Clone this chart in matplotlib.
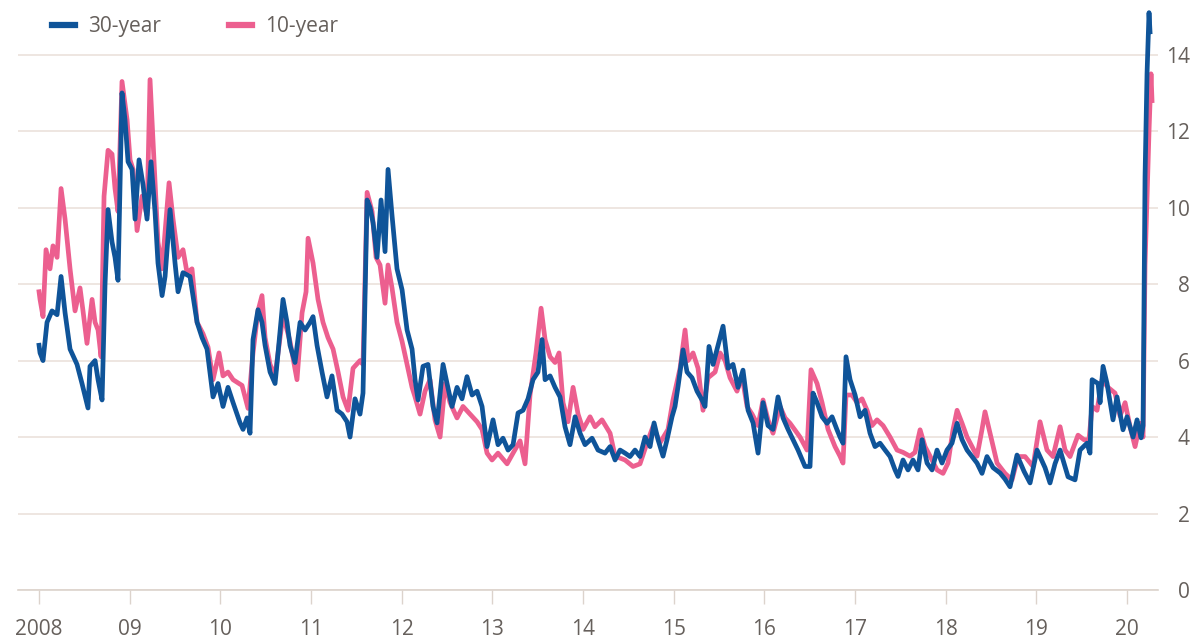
import numpy as np
import matplotlib.pyplot as plt
from matplotlib.lines import Line2D

# years elapsed since the start of 2008, and yields (%)
yrs_30 = [0.000, 0.011, 0.044, 0.088, 0.143, 0.199, 0.243, 0.287, 0.342, 0.419,
          0.474, 0.540, 0.562, 0.618, 0.651, 0.695, 0.728, 0.761, 0.805, 0.838,
          0.871, 0.915, 0.948, 0.982, 1.026, 1.059, 1.103, 1.147, 1.191, 1.235,
          1.279, 1.312, 1.357, 1.390, 1.445, 1.500, 1.533, 1.588, 1.665, 1.743,
          1.798, 1.853, 1.919, 1.974, 2.029, 2.084, 2.140, 2.217, 2.250, 2.294,
          2.327, 2.360, 2.415, 2.459, 2.493, 2.548, 2.603, 2.636, 2.691, 2.735,
          2.768, 2.823, 2.879, 2.934, 2.989, 3.022, 3.066, 3.121, 3.176, 3.231,
          3.287, 3.342, 3.397, 3.430, 3.485, 3.540, 3.573, 3.618, 3.651, 3.684,
          3.728, 3.772, 3.816, 3.849, 3.893, 3.948, 4.004, 4.059, 4.114, 4.147,
          4.180, 4.235, 4.290, 4.345, 4.390, 4.456, 4.500, 4.555, 4.610, 4.665,
          4.720, 4.776, 4.831, 4.886, 4.941, 5.007, 5.062, 5.117, 5.173, 5.228,
          5.283, 5.338, 5.393, 5.448, 5.503, 5.548, 5.581, 5.636, 5.691, 5.746,
          5.801, 5.856, 5.912, 5.967, 6.022, 6.099, 6.165, 6.242, 6.298, 6.353,
          6.408, 6.463, 6.518, 6.573, 6.628, 6.684, 6.739, 6.783, 6.827, 6.882,
          6.926, 6.981, 7.014, 7.048, 7.103, 7.147, 7.202, 7.257, 7.312, 7.345,
          7.389, 7.434, 7.489, 7.544, 7.599, 7.654, 7.709, 7.764, 7.820, 7.875,
          7.930, 7.985, 8.040, 8.095, 8.150, 8.206, 8.261, 8.316, 8.371, 8.448,
          8.503, 8.536, 8.581, 8.636, 8.691, 8.746, 8.801, 8.834, 8.867, 8.900,
          8.945, 9.000, 9.055, 9.110, 9.165, 9.220, 9.275, 9.331, 9.386, 9.441,
          9.474, 9.529, 9.584, 9.639, 9.694, 9.739, 9.794, 9.849, 9.904, 9.959,
          10.014, 10.069, 10.125, 10.180, 10.235, 10.290, 10.345, 10.400, 10.455, 10.522,
          10.599, 10.654, 10.709, 10.786, 10.864, 10.930, 11.007, 11.095, 11.150, 11.205,
          11.261, 11.349, 11.426, 11.481, 11.558, 11.591, 11.614, 11.680, 11.702, 11.735,
          11.779, 11.845, 11.889, 11.955, 12.000, 12.066, 12.110, 12.154, 12.176, 12.198,
          12.220, 12.242, 12.253]
vol_30 = [6.4, 6.2, 6.0, 7.0, 7.3, 7.2, 8.2, 7.25, 6.3, 5.9,
          5.4, 4.76, 5.85, 6.0, 5.5, 4.97, 8.0, 9.95, 9.1, 8.7,
          8.1, 13.0, 12.3, 11.2, 11.0, 9.7, 11.25, 10.6, 9.7, 11.2,
          9.9, 8.55, 7.7, 8.2, 9.95, 8.55, 7.8, 8.3, 8.2, 7.0,
          6.6, 6.3, 5.05, 5.4, 4.8, 5.3, 4.9, 4.37, 4.2, 4.5,
          4.1, 6.55, 7.33, 7.0, 6.4, 5.7, 5.4, 6.2, 7.6, 7.0,
          6.4, 5.95, 7.0, 6.8, 7.0, 7.15, 6.4, 5.7, 5.05, 5.6,
          4.7, 4.6, 4.4, 4.0, 5.0, 4.6, 5.15, 10.2, 10.0, 9.6,
          8.7, 10.2, 8.85, 11.0, 9.8, 8.4, 7.85, 6.8, 6.3, 5.5,
          4.97, 5.85, 5.9, 4.8, 4.37, 5.9, 5.4, 4.8, 5.3, 5.0,
          5.58, 5.1, 5.2, 4.8, 3.75, 4.45, 3.8, 3.97, 3.66, 3.8,
          4.63, 4.7, 5.0, 5.5, 5.7, 6.55, 5.5, 5.6, 5.3, 5.05,
          4.27, 3.8, 4.53, 4.1, 3.8, 3.97, 3.66, 3.58, 3.75, 3.4,
          3.66, 3.58, 3.49, 3.66, 3.49, 4.0, 3.75, 4.37, 3.93, 3.5,
          3.93, 4.53, 4.8, 5.33, 6.28, 5.7, 5.55, 5.2, 4.97, 4.8,
          6.37, 5.9, 6.4, 6.9, 5.8, 5.9, 5.3, 5.75, 4.7, 4.37,
          3.58, 4.9, 4.3, 4.2, 5.05, 4.5, 4.2, 3.93, 3.66, 3.23,
          3.23, 5.15, 4.9, 4.53, 4.36, 4.53, 4.19, 4.0, 3.84, 6.1,
          5.5, 5.1, 4.53, 4.7, 4.1, 3.75, 3.84, 3.66, 3.49, 3.14,
          2.97, 3.4, 3.14, 3.4, 3.14, 3.93, 3.32, 3.14, 3.66, 3.32,
          3.66, 3.84, 4.36, 3.93, 3.66, 3.49, 3.32, 3.05, 3.49, 3.2,
          3.06, 2.9, 2.7, 3.53, 3.1, 2.8, 3.66, 3.2, 2.8, 3.3,
          3.66, 2.96, 2.88, 3.66, 3.84, 3.58, 5.5, 5.4, 4.9, 5.85,
          5.4, 4.45, 5.05, 4.19, 4.53, 4.0, 4.45, 3.98, 4.3, 10.8,
          13.5, 15.1, 14.6]

yrs_10 = [0.000, 0.011, 0.044, 0.077, 0.121, 0.154, 0.199, 0.243, 0.287, 0.342,
          0.397, 0.452, 0.485, 0.529, 0.585, 0.618, 0.651, 0.684, 0.717, 0.761,
          0.805, 0.838, 0.871, 0.915, 0.971, 1.004, 1.037, 1.081, 1.136, 1.191,
          1.224, 1.268, 1.312, 1.357, 1.412, 1.434, 1.478, 1.533, 1.588, 1.632,
          1.687, 1.743, 1.809, 1.864, 1.919, 1.985, 2.029, 2.084, 2.140, 2.239,
          2.305, 2.360, 2.415, 2.459, 2.493, 2.548, 2.603, 2.691, 2.768, 2.845,
          2.901, 2.945, 2.967, 3.022, 3.077, 3.132, 3.187, 3.243, 3.298, 3.353,
          3.408, 3.463, 3.540, 3.573, 3.618, 3.673, 3.717, 3.761, 3.816, 3.849,
          3.893, 3.948, 4.004, 4.059, 4.114, 4.147, 4.202, 4.257, 4.312, 4.367,
          4.423, 4.478, 4.533, 4.610, 4.676, 4.753, 4.831, 4.886, 4.941, 4.996,
          5.062, 5.162, 5.228, 5.305, 5.360, 5.415, 5.481, 5.537, 5.581, 5.636,
          5.691, 5.735, 5.779, 5.834, 5.890, 5.945, 6.000, 6.077, 6.132, 6.209,
          6.298, 6.353, 6.463, 6.551, 6.628, 6.706, 6.772, 6.849, 6.937, 6.992,
          7.070, 7.125, 7.158, 7.213, 7.268, 7.323, 7.378, 7.456, 7.511, 7.566,
          7.621, 7.698, 7.753, 7.809, 7.864, 7.930, 7.985, 8.040, 8.095, 8.172,
          8.228, 8.283, 8.393, 8.470, 8.514, 8.581, 8.636, 8.702, 8.779, 8.834,
          8.867, 8.900, 8.967, 9.022, 9.077, 9.132, 9.187, 9.242, 9.309, 9.386,
          9.463, 9.529, 9.606, 9.661, 9.717, 9.772, 9.827, 9.904, 9.970, 10.025,
          10.080, 10.125, 10.180, 10.235, 10.290, 10.345, 10.400, 10.433, 10.489, 10.566,
          10.654, 10.731, 10.797, 10.875, 10.963, 11.040, 11.117, 11.183, 11.261, 11.316,
          11.371, 11.459, 11.525, 11.580, 11.614, 11.669, 11.724, 11.790, 11.867, 11.922,
          11.978, 12.033, 12.088, 12.143, 12.176, 12.198, 12.220, 12.242, 12.264, 12.275]
vol_10 = [7.8, 7.6, 7.15, 8.9, 8.4, 9.0, 8.7, 10.5, 9.7, 8.4,
          7.3, 7.9, 7.3, 6.45, 7.6, 7.0, 6.8, 6.1, 10.3, 11.5,
          11.4, 10.5, 9.9, 13.3, 12.3, 11.25, 11.0, 9.4, 10.3, 9.8,
          13.35, 11.2, 9.1, 8.4, 10.0, 10.65, 9.7, 8.7, 8.9, 8.3,
          8.4, 7.0, 6.7, 6.35, 5.5, 6.2, 5.6, 5.7, 5.5, 5.35,
          4.75, 6.2, 7.3, 7.7, 6.6, 5.9, 5.6, 7.2, 6.5, 5.5,
          7.25, 7.8, 9.2, 8.55, 7.6, 7.0, 6.6, 6.3, 5.7, 5.05,
          4.7, 5.8, 6.0, 5.9, 10.4, 9.9, 8.7, 8.5, 7.5, 8.5,
          7.9, 7.0, 6.5, 5.9, 5.3, 5.05, 4.6, 5.2, 5.5, 4.45,
          4.0, 5.4, 4.9, 4.5, 4.8, 4.6, 4.4, 4.2, 3.58, 3.4,
          3.58, 3.3, 3.58, 3.9, 3.3, 5.1, 6.2, 7.37, 6.55, 6.1,
          5.95, 6.2, 4.9, 4.4, 5.3, 4.6, 4.2, 4.53, 4.27, 4.45,
          4.1, 3.5, 3.4, 3.23, 3.3, 3.85, 4.28, 3.85, 4.2, 4.97,
          5.8, 6.8, 6.0, 6.2, 5.8, 4.7, 5.55, 5.7, 6.2, 6.0,
          5.55, 5.2, 5.6, 4.8, 4.6, 4.3, 4.97, 4.45, 4.1, 4.8,
          4.5, 4.36, 4.0, 3.66, 5.76, 5.4, 4.9, 4.2, 3.75, 3.5,
          3.32, 5.1, 5.1, 4.9, 5.0, 4.7, 4.3, 4.45, 4.3, 4.0,
          3.66, 3.6, 3.5, 3.6, 4.19, 3.75, 3.5, 3.14, 3.05, 3.32,
          4.19, 4.7, 4.36, 4.0, 3.75, 3.5, 4.2, 4.66, 4.1, 3.32,
          3.05, 2.88, 3.49, 3.49, 3.23, 4.4, 3.66, 3.49, 4.27, 3.66,
          3.49, 4.05, 3.93, 3.93, 4.8, 4.7, 5.5, 5.3, 5.15, 4.55,
          4.9, 4.27, 3.75, 4.36, 4.0, 8.5, 10.3, 12.0, 13.5, 12.8]

start_year = 2008
tick_years = list(range(2008, 2021))
tick_labels = ['2008', '09', '10', '11', '12', '13', '14', '15', '16', '17', '18', '19', '20']
y_ticks = [0, 2, 4, 6, 8, 10, 12, 14]

BLUE = '#0f5499'
PINK = '#ec5f8f'
GRID = '#ebe2db'
TEXT = '#66605c'

plt.rcParams['font.family'] = ['Open Sans', 'DejaVu Sans']

fig = plt.figure(figsize=(11.92, 6.42), dpi=100)
ax = fig.add_axes([18 / 1192, 52 / 642, 1140 / 1192, 585 / 642])

t10 = start_year + np.array(yrs_10)
t30 = start_year + np.array(yrs_30)
ax.plot(t10, vol_10, color=PINK, lw=3.4, solid_joinstyle='round', zorder=2)
ax.plot(t30, vol_30, color=BLUE, lw=3.4, solid_joinstyle='round', zorder=3)

ax.set_xlim(2007.768, 2020.341)
ax.set_ylim(0, 15.3)

ax.set_yticks(y_ticks)
ax.yaxis.tick_right()
ax.tick_params(axis='y', length=0, pad=23, labelsize=15, labelcolor=TEXT)
for lbl in ax.get_yticklabels():
    lbl.set_horizontalalignment('right')
ax.grid(axis='y', color=GRID, lw=1.2, zorder=0)

ax.set_xticks(tick_years)
ax.set_xticklabels(tick_labels)
ax.tick_params(axis='x', length=10, width=1, color='#dcd3cc', pad=11,
               labelsize=15, labelcolor=TEXT)

for s in ['top', 'left', 'right']:
    ax.spines[s].set_visible(False)
ax.spines['bottom'].set_color('#dcd3cc')
ax.spines['bottom'].set_linewidth(1.2)

handles = [Line2D([], [], color=BLUE, lw=4.5), Line2D([], [], color=PINK, lw=4.5)]
ax.legend(handles, ['30-year', '10-year'], loc='upper left', ncol=2,
          bbox_to_anchor=(0.02, 1.0), frameon=False, fontsize=15,
          labelcolor=TEXT, handlelength=1.1, handletextpad=0.6,
          columnspacing=3.3, borderaxespad=0.15)

fig.savefig('out.png', dpi=100)
